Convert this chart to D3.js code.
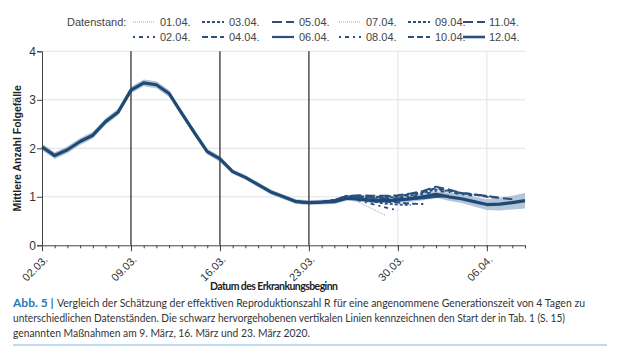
<!DOCTYPE html>
<html>
<head>
<meta charset="utf-8">
<script src="https://cdn.jsdelivr.net/npm/d3@7"></script>
<style>
  body { margin: 0; background: #fff; }
  svg { display: block; }
</style>
</head>
<body>
<svg id="chart" width="620" height="364"></svg>
<script>
// values per day, starting 02.03.2020 (day 0)
const startDate = new Date(2020, 2, 2);
const endDate = new Date(2020, 3, 9);

// shared part of all estimates (days 0..22)
const baseValues = [2.03, 1.85, 1.97, 2.14, 2.27, 2.55, 2.75, 3.2, 3.35, 3.31, 3.13,
                    2.72, 2.32, 1.93, 1.78, 1.52, 1.4, 1.25, 1.1, 1.0, 0.9, 0.88, 0.89];

// tails of each estimate, from day 23 on
const standLabels = ['01.04.', '02.04.', '03.04.', '04.04.', '05.04.', '06.04.',
                     '07.04.', '08.04.', '09.04.', '10.04.', '11.04.', '12.04.'];
const tail0104 = [0.92, 0.98, 0.88, 0.75, 0.62];
const tail0204 = [0.93, 1.0, 0.92, 0.85, 0.78, 0.72];
const tail0304 = [0.93, 1.01, 0.95, 0.9, 0.86, 0.84, 0.83];
const tail0404 = [0.92, 1.0, 0.96, 0.92, 0.9, 0.88, 0.86, 0.85];
const tail0504 = [0.93, 1.02, 1.0, 0.98, 0.97, 0.96, 0.98, 1.0, 1.02];
const tail0604 = [0.92, 1.0, 0.97, 0.93, 0.92, 0.93, 0.95, 0.97, 1.0, 1.02];
const tail0704 = [0.93, 1.01, 0.98, 0.95, 0.94, 0.95, 0.97, 1.0, 1.05, 1.08, 1.05];
const tail0804 = [0.92, 1.0, 0.97, 0.95, 0.95, 0.97, 1.0, 1.05, 1.12, 1.1, 1.05, 1.02];
const tail0904 = [0.93, 1.01, 1.0, 0.98, 0.98, 1.0, 1.03, 1.08, 1.15, 1.12, 1.07, 1.04, 1.02];
const tail1004 = [0.93, 1.02, 1.01, 1.0, 1.0, 1.02, 1.05, 1.1, 1.18, 1.13, 1.08, 1.05, 1.0, 0.98];
const tail1104 = [0.93, 1.02, 1.03, 1.02, 1.02, 1.03, 1.07, 1.12, 1.21, 1.15, 1.08, 1.05, 1.02, 0.98, 0.95];
const tail1204 = [0.9, 0.97, 0.95, 0.92, 0.92, 0.93, 0.96, 1.0, 1.05, 1.0, 0.96, 0.9, 0.84, 0.85, 0.88, 0.92];
const tails = [tail0104, tail0204, tail0304, tail0404, tail0504, tail0604,
               tail0704, tail0804, tail0904, tail1004, tail1104, tail1204];

// half width of the uncertainty band of the latest estimate (days 0..38)
const bandHalf = [0.07, 0.07, 0.07, 0.07, 0.07, 0.07, 0.07, 0.07, 0.07, 0.07,
                  0.07, 0.06, 0.06, 0.06, 0.06, 0.05, 0.05, 0.05, 0.05, 0.05,
                  0.05, 0.05, 0.05, 0.05, 0.05, 0.05, 0.05, 0.05, 0.06, 0.06,
                  0.07, 0.07, 0.08, 0.09, 0.1, 0.11, 0.13, 0.14, 0.16];

const yTicks = [0, 1, 2, 3, 4];
const measureDates = [new Date(2020, 2, 9), new Date(2020, 2, 16), new Date(2020, 2, 23)];
const gridDates = [new Date(2020, 2, 30), new Date(2020, 3, 6)];

// line styles for the legend / series (pattern repeats after 6)
const styles = [
  { dash: '1,1', width: 1, color: '#9aa6b8' },
  { dash: '2,4,4,4', width: 1.8, color: '#2a5080' },
  { dash: '3,2', width: 1.8, color: '#2a5080' },
  { dash: '6,3', width: 2, color: '#2a5080' },
  { dash: '10,4', width: 2, color: '#2a5080' },
  { dash: null, width: 2.2, color: '#2a5080' }
];

const svg = d3.select('#chart');
const plotLeft = 42, plotRight = 525, plotTop = 51.3, plotBottom = 245.3;

const x = d3.scaleTime().domain([startDate, endDate]).range([plotLeft, plotRight]);
const y = d3.scaleLinear().domain([0, 4]).range([plotBottom, plotTop]);
const dayDate = i => d3.timeDay.offset(startDate, i);

// grid
svg.append('g').selectAll('line').data(yTicks.slice(1)).join('line')
  .attr('x1', plotLeft).attr('x2', plotRight)
  .attr('y1', d => y(d)).attr('y2', d => y(d))
  .attr('stroke', '#e2e2e2').attr('stroke-width', 1);
svg.append('g').selectAll('line').data(gridDates).join('line')
  .attr('x1', d => x(d)).attr('x2', d => x(d))
  .attr('y1', plotTop).attr('y2', plotBottom)
  .attr('stroke', '#e2e2e2').attr('stroke-width', 1);

// band of latest estimate
const latest = baseValues.concat(tail1204);
const band = d3.area()
  .x((d, i) => x(dayDate(i)))
  .y0((d, i) => y(d - bandHalf[i]))
  .y1((d, i) => y(d + bandHalf[i]));
svg.append('path').datum(latest)
  .attr('d', band)
  .attr('fill', '#a9bcd3').attr('opacity', 0.85);

// measure lines
svg.append('g').selectAll('line').data(measureDates).join('line')
  .attr('x1', d => x(d)).attr('x2', d => x(d))
  .attr('y1', plotTop).attr('y2', plotBottom)
  .attr('stroke', '#222').attr('stroke-width', 1.2);

// series
const line = d3.line()
  .x(d => x(dayDate(d.day)))
  .y(d => y(d.value));

tails.forEach((tail, k) => {
  const values = baseValues.concat(tail).map((v, i) => ({ day: i, value: v }));
  const st = styles[k % 6];
  const isLatest = k === tails.length - 1;
  svg.append('path').datum(isLatest ? values : values.slice(20))
    .attr('d', line)
    .attr('fill', 'none')
    .attr('stroke', isLatest ? '#1f4a75' : st.color)
    .attr('stroke-width', isLatest ? 3.2 : st.width)
    .attr('stroke-dasharray', st.dash)
    .attr('stroke-linejoin', 'round');
});

// y axis
const yAxis = svg.append('g')
  .attr('transform', `translate(${plotLeft},0)`)
  .call(d3.axisLeft(y).tickValues(yTicks).tickSize(5).tickFormat(d3.format('d')));
yAxis.select('.domain').attr('stroke', '#444');
yAxis.selectAll('.tick line').attr('stroke', '#444');
yAxis.selectAll('text').attr('font-family', 'Liberation Sans, Arial, sans-serif')
  .attr('font-size', 12).attr('fill', '#333').attr('x', -6);

// x axis: daily minor ticks, weekly labels
const xAxisMinor = svg.append('g')
  .attr('transform', `translate(0,${plotBottom})`)
  .call(d3.axisBottom(x).ticks(d3.timeDay.every(1)).tickSize(3).tickFormat(''));
xAxisMinor.select('.domain').attr('stroke', '#444');
xAxisMinor.selectAll('.tick line').attr('stroke', '#444');

const weekTicks = d3.timeDay.range(startDate, endDate, 7);
const xAxis = svg.append('g')
  .attr('transform', `translate(0,${plotBottom})`)
  .call(d3.axisBottom(x).tickValues(weekTicks).tickSize(6).tickFormat(d3.timeFormat('%d.%m.')));
xAxis.select('.domain').remove();
xAxis.selectAll('.tick line').attr('stroke', '#444');
xAxis.selectAll('text')
  .attr('font-family', 'Liberation Sans, Arial, sans-serif')
  .attr('font-size', 11).attr('fill', '#333')
  .attr('text-anchor', 'end')
  .attr('y', 0).attr('dy', 0)
  .attr('transform', 'translate(6,15) rotate(-45)');

// axis titles
svg.append('text')
  .attr('transform', `translate(21,${(plotTop + plotBottom) / 2}) rotate(-90)`)
  .attr('text-anchor', 'middle')
  .attr('font-family', 'Liberation Sans, Arial, sans-serif')
  .attr('font-size', 10.5).attr('font-weight', 'bold').attr('fill', '#222')
  .text('Mittlere Anzahl Folgefälle');

svg.append('text')
  .attr('x', 274).attr('y', 290)
  .attr('text-anchor', 'middle')
  .attr('font-family', 'Lato, sans-serif')
  .attr('font-size', 10.5).attr('font-weight', 'bold').attr('fill', '#222')
  .attr('textLength', 128)
  .text('Datum des Erkrankungsbeginn');

// legend
const legendFont = 'Liberation Sans, Arial, sans-serif';
svg.append('text')
  .attr('x', 67).attr('y', 26)
  .attr('font-family', legendFont).attr('font-size', 11).attr('fill', '#444')
  .text('Datenstand:');

const colX = [133, 202, 272, 339, 408, 463];
const rowY = [22, 37];
standLabels.forEach((lab, k) => {
  const col = Math.floor(k / 2), row = k % 2;
  const st = styles[k % 6];
  const g = svg.append('g').attr('transform', `translate(${colX[col]},${rowY[row]})`);
  g.append('line')
    .attr('x1', 0).attr('x2', 22).attr('y1', 0).attr('y2', 0)
    .attr('stroke', st.color)
    .attr('stroke-width', k === 11 ? 2.6 : st.width)
    .attr('stroke-dasharray', st.dash);
  g.append('text')
    .attr('x', col === 5 ? 26 : 27).attr('y', 4)
    .attr('font-family', legendFont).attr('font-size', 11).attr('fill', '#444')
    .text(lab);
});

// caption
const capFont = 'Lato, sans-serif';
const caption = svg.append('g')
  .attr('font-family', capFont).attr('font-size', 10.6).attr('fill', '#333');
caption.append('text').attr('x', 13).attr('y', 307)
  .attr('font-size', 12)
  .attr('fill', '#2a78b6').attr('font-weight', 'bold')
  .text('Abb. 5 |');
caption.append('text').attr('x', 57).attr('y', 307)
  .attr('textLength', 528).attr('lengthAdjust', 'spacingAndGlyphs')
  .text('Vergleich der Schätzung der effektiven Reproduktionszahl R für eine angenommene Generationszeit von 4 Tagen zu');
caption.append('text').attr('x', 13).attr('y', 322)
  .attr('textLength', 552).attr('lengthAdjust', 'spacingAndGlyphs')
  .text('unterschiedlichen Datenständen. Die schwarz hervorgehobenen vertikalen Linien kennzeichnen den Start der in Tab. 1 (S. 15)');
caption.append('text').attr('x', 13).attr('y', 337)
  .attr('textLength', 297).attr('lengthAdjust', 'spacingAndGlyphs')
  .text('genannten Maßnahmen am 9. März, 16. März und 23. März 2020.');

svg.append('line')
  .attr('x1', 13).attr('x2', 607).attr('y1', 345).attr('y2', 345)
  .attr('stroke', '#7fb6e0').attr('stroke-width', 1);
</script>
</body>
</html>
